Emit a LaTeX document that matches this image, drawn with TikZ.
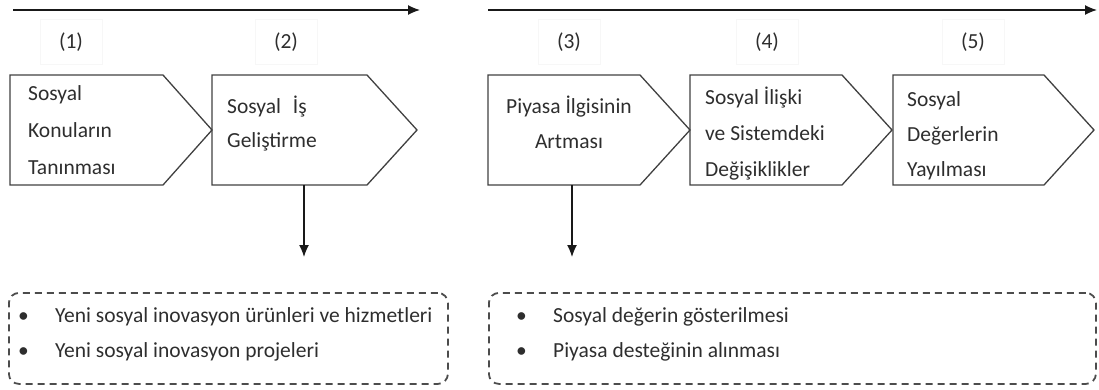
\documentclass[tikz,border=0pt]{standalone}
\usepackage{fontspec}
\setmainfont{Carlito}
\usetikzlibrary{arrows.meta}
\begin{document}
\begin{tikzpicture}[x=1pt,y=-1pt,
  shp/.style={draw=black!75, line width=1.3pt, line join=miter},
  txt/.style={font=\fontsize{21.5}{26}\selectfont, text=black!82, inner sep=0pt, anchor=base west},
  ctxt/.style={txt, anchor=base},
  num/.style={font=\fontsize{21.5}{26}\selectfont, text=black!82, draw=black!3, line width=0.6pt, minimum width=62pt, minimum height=45pt, inner sep=0pt},
  dbox/.style={draw=black!70, line width=1.8pt, dash pattern=on 7pt off 5pt, rounded corners=10pt, minimum height=91pt, inner sep=0pt, anchor=north west},
  arr/.style={-{Latex[length=12pt,width=10pt]}, line width=1.3pt, draw=black!90}
]
\useasboundingbox (0,0) rectangle (1099,389);

% top timeline arrows
\coordinate (t1s) at (13,10);  \coordinate (t1e) at (420,10);
\coordinate (t2s) at (488,10); \coordinate (t2e) at (1097,10);
\draw[arr] (t1s) -- (t1e);
\draw[arr] (t2s) -- (t2e);

% step numbers
\node[num] (n1) at (71,42) {(1)};
\node[num] (n2) at (286,42) {(2)};
\node[num] (n3) at (569,42) {(3)};
\node[num] (n4) at (767,42) {(4)};
\node[num] (n5) at (973,42) {(5)};

% pentagon arrows
\draw[shp] (10,75) -- (163,75) -- (212,130) -- (163,185) -- (10,185) -- cycle;
\draw[shp] (212,75) -- (367,75) -- (417,130) -- (367,185) -- (212,185) -- cycle;
\draw[shp] (488,75) -- (640,75) -- (690,130) -- (640,185) -- (488,185) -- cycle;
\draw[shp] (690,75) -- (842,75) -- (892,130) -- (842,185) -- (690,185) -- cycle;
\draw[shp] (893,75) -- (1044,75) -- (1094,130) -- (1044,185) -- (893,185) -- cycle;

% texts in step 1
\node[txt] (s1a) at (28,100) {Sosyal};
\node[txt] (s1b) at (28,137) {Konuların};
\node[txt] (s1c) at (28,174) {Tanınması};
% step 2
\node[txt] (s2a) at (227,113) {Sosyal\hspace{7pt} İş};
\node[txt] (s2b) at (227,147) {Geliştirme};
% step 3
\node[ctxt] (s3a) at (569,113) {Piyasa İlgisinin};
\node[ctxt] (s3b) at (569,148) {Artması};
% step 4
\node[txt] (s4a) at (705,104) {Sosyal İlişki};
\node[txt] (s4b) at (705,140) {ve Sistemdeki};
\node[txt] (s4c) at (705,176) {Değişiklikler};
% step 5
\node[txt] (s5a) at (907,106) {Sosyal};
\node[txt] (s5b) at (907,141) {Değerlerin};
\node[txt] (s5c) at (907,176) {Yayılması};

% down arrows
\coordinate (p2) at (304,185); \coordinate (d2) at (304,257);
\coordinate (p3) at (572,185); \coordinate (d3) at (572,257);
\draw[arr] (p2) -- (d2);
\draw[arr] (p3) -- (d3);

% dashed outcome boxes
\node[dbox, minimum width=439pt] (b1) at (8,292) {};
\node[dbox, minimum width=607pt] (b2) at (488,292) {};

\node[txt] (b1d1) at (18,322) {•};
\node[txt] (b1t1) at (55,322) {Yeni sosyal inovasyon ürünleri ve hizmetleri};
\node[txt] (b1d2) at (18,357) {•};
\node[txt] (b1t2) at (55,357) {Yeni sosyal inovasyon projeleri};

\node[txt] (b2d1) at (516,322) {•};
\node[txt] (b2t1) at (553,322) {Sosyal değerin gösterilmesi};
\node[txt] (b2d2) at (516,357) {•};
\node[txt] (b2t2) at (553,357) {Piyasa desteğinin alınması};
\end{tikzpicture}
\end{document}
